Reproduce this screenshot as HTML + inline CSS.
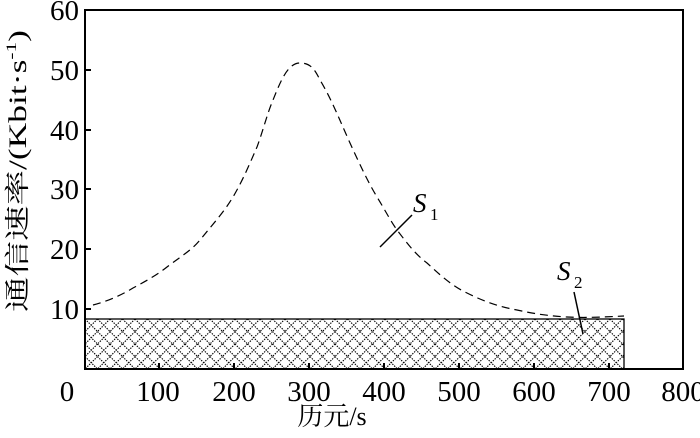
<!DOCTYPE html>
<html><head><meta charset="utf-8"><style>
html,body{margin:0;padding:0;background:#fff;}
svg{display:block;font-family:"Liberation Serif","Noto Serif CJK SC",serif;}
</style></head><body>
<svg width="700" height="438" viewBox="0 0 700 438" xmlns="http://www.w3.org/2000/svg">
<defs>
<pattern id="h" width="12.5" height="12.5" patternUnits="userSpaceOnUse" x="85" y="319">
<path d="M0,0L12.5,12.5M12.5,0L0,12.5" stroke="#000" stroke-width="1.1" stroke-dasharray="1.4,1.2" fill="none"/>
</pattern>
</defs>
<rect x="85" y="319" width="539" height="50" fill="url(#h)" stroke="#000" stroke-width="1.3"/>
<path d="M93,305 C105,302 120,296 133,288 C146,281 157,275 167,267 C180,257 192,250 200,240 C213,224 224,212 233,197 C243,180 250,163 257,147 C263,131 267,114 273,100 C281,80 288,63 300,63 C311,63 315,70 320,80 C332,100 340,121 350,143 C360,165 368,182 377,197 C385,210 390,220 397,230 C407,243 415,254 427,263 C440,275 452,286 467,293 C485,302 500,307 517,310 C535,314 550,316 567,317 C585,318 605,317 624,316" fill="none" stroke="#000" stroke-width="1.2" stroke-dasharray="8,5"/>
<rect x="85" y="10" width="598" height="359" fill="none" stroke="#000" stroke-width="2"/>
<g stroke="#000" stroke-width="2">
<line x1="159" y1="369" x2="159" y2="363"/><line x1="234" y1="369" x2="234" y2="363"/><line x1="309" y1="369" x2="309" y2="363"/><line x1="384" y1="369" x2="384" y2="363"/><line x1="459" y1="369" x2="459" y2="363"/><line x1="534" y1="369" x2="534" y2="363"/><line x1="609" y1="369" x2="609" y2="363"/>
<line x1="85" y1="309" x2="91" y2="309"/><line x1="85" y1="249" x2="91" y2="249"/><line x1="85" y1="189" x2="91" y2="189"/><line x1="85" y1="130" x2="91" y2="130"/><line x1="85" y1="70" x2="91" y2="70"/>
</g>
<g font-size="29" text-anchor="end" fill="#000">
<text x="79" y="319">10</text><text x="79" y="259">20</text><text x="79" y="199">30</text><text x="79" y="140">40</text><text x="79" y="80">50</text><text x="79" y="20">60</text>
</g>
<g font-size="29" text-anchor="middle" fill="#000">
<text x="67" y="401">0</text><text x="158" y="401">100</text><text x="234" y="401">200</text><text x="309" y="401">300</text><text x="384" y="401">400</text><text x="459" y="401">500</text><text x="534" y="401">600</text><text x="609" y="401">700</text><text x="683" y="401">800</text>
</g>
<text x="332" y="425" font-size="26" text-anchor="middle">历元/s</text>
<text transform="translate(26,312) rotate(-90)" font-size="25" textLength="282" lengthAdjust="spacingAndGlyphs">通信速率/(Kbit·s<tspan font-size="15" dy="-10">-1</tspan><tspan dy="10">)</tspan></text>
<line x1="380" y1="247" x2="412" y2="215" stroke="#000" stroke-width="1.5"/>
<text x="413" y="212" font-size="27" font-style="italic">S</text><text x="430" y="220" font-size="17">1</text>
<line x1="574" y1="292" x2="583" y2="334" stroke="#000" stroke-width="1.5"/>
<text x="557" y="280" font-size="27" font-style="italic">S</text><text x="574" y="288" font-size="17">2</text>
</svg>
</body></html>
